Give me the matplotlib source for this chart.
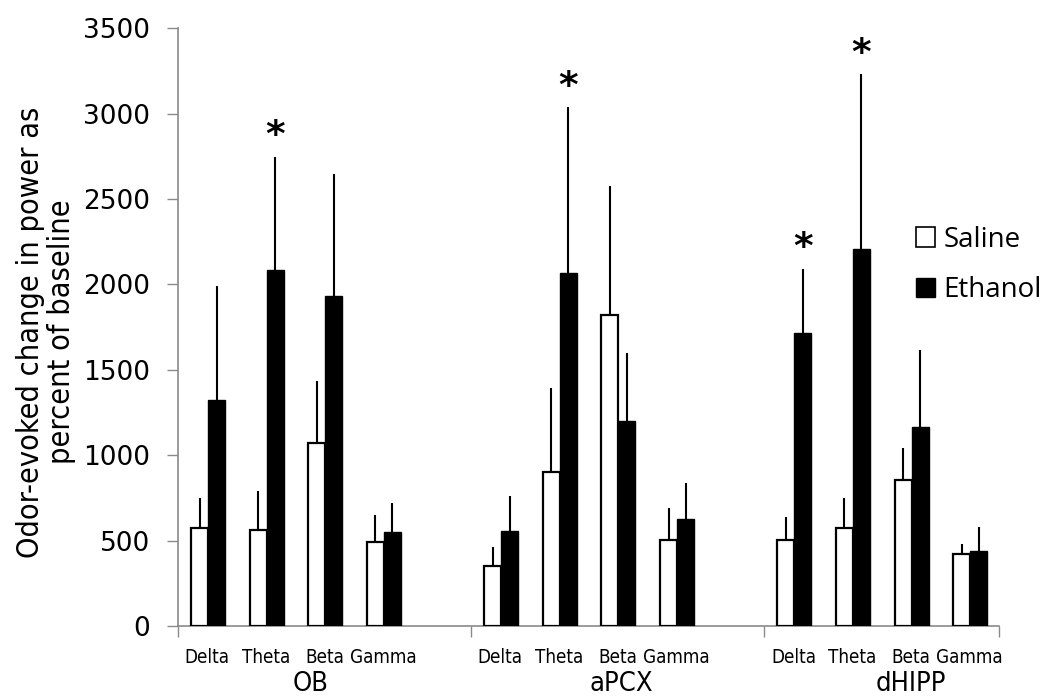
import numpy as np
import matplotlib
matplotlib.use('Agg')
import matplotlib.pyplot as plt
from matplotlib.patches import Patch

# values (percent of baseline)
regions = ['OB', 'aPCX', 'dHIPP']
bands = ['Delta', 'Theta', 'Beta', 'Gamma']
saline_mean = [572, 562, 1073, 491, 350, 904, 1822, 501, 502, 572, 855, 420]
saline_err = [177, 227, 360, 161, 111, 489, 753, 188, 137, 179, 190, 60]
ethanol_mean = [1323, 2084, 1933, 550, 558, 2064, 1202, 628, 1717, 2210, 1165, 438]
ethanol_err = [670, 662, 714, 173, 205, 972, 398, 212, 376, 1019, 453, 141]
significant = [False, True, False, False, False, True, False, False, True, True, False, False]

grey = '#8a8a8a'

fig = plt.figure(figsize=(10.5, 7), dpi=100)
ax = fig.add_axes([0.1695, 0.1057, 0.7815, 0.854])

# each region takes 4 band slots plus one empty slot
slots = np.array([r * (len(bands) + 1) + b for r in range(len(regions)) for b in range(len(bands))])
centers = slots + 0.5
w = 0.29
xs = centers - 0.13
xe = centers + 0.16

ax.bar(xs, saline_mean, width=w, color='white', edgecolor='black', linewidth=1.6, zorder=3)
ax.bar(xe, ethanol_mean, width=w, color='black', edgecolor='black', linewidth=1.0, zorder=3)
ax.errorbar(xs, saline_mean, yerr=[np.zeros(len(saline_err)), saline_err],
            fmt='none', ecolor='black', elinewidth=1.5, capsize=0, zorder=2)
ax.errorbar(xe, ethanol_mean, yerr=[np.zeros(len(ethanol_err)), ethanol_err],
            fmt='none', ecolor='black', elinewidth=1.5, capsize=0, zorder=2)

for x, m, e, s in zip(xe, ethanol_mean, ethanol_err, significant):
    if s:
        ax.text(x, m + e + 15, '*', ha='center', va='bottom', fontsize=27,
                fontweight='bold', color='black')

ax.set_xlim(0, 14)
ax.set_ylim(0, 3500)
ax.set_yticks(np.arange(0, 3501, 500))
ax.tick_params(axis='y', direction='out', length=8, width=1, color=grey, pad=12, labelsize=19)

# group separators as major ticks, band names as minor tick labels
ax.set_xticks([0, 5, 10, 14])
ax.set_xticklabels([])
ax.tick_params(axis='x', which='major', direction='out', length=8, width=1, color=grey)
ax.set_xticks(centers, minor=True)
ax.set_xticklabels(bands * len(regions), minor=True, fontsize=13.5, fontstretch='condensed')
ax.tick_params(axis='x', which='minor', length=0, pad=16)

for pos, name in zip([2.27, 7.56, 12.5], regions):
    ax.text(pos, -340, name, ha='center', va='center', fontsize=19.5, fontstretch='condensed')

for side in ['top', 'right']:
    ax.spines[side].set_visible(False)
for side in ['left', 'bottom']:
    ax.spines[side].set_color(grey)
    ax.spines[side].set_linewidth(1.2)

fig.text(46 / 1050, 1 - 332 / 700, 'Odor-evoked change in power as\npercent of baseline',
         rotation=90, ha='center', va='center', multialignment='center',
         fontsize=22, fontstretch='condensed', linespacing=1.05)

handles = [Patch(facecolor='white', edgecolor='black', linewidth=1.2, label='Saline'),
           Patch(facecolor='black', edgecolor='black', label='Ethanol')]
fig.legend(handles=handles, loc='upper left', bbox_to_anchor=(902 / 1050, 1 - 212 / 700),
           frameon=False, handlelength=0.7, handleheight=0.7,
           handletextpad=0.3, labelspacing=0.8, borderpad=0, prop={'family': 'Open Sans', 'size': 20})

plt.savefig('out.png', dpi=100)
plt.close()
